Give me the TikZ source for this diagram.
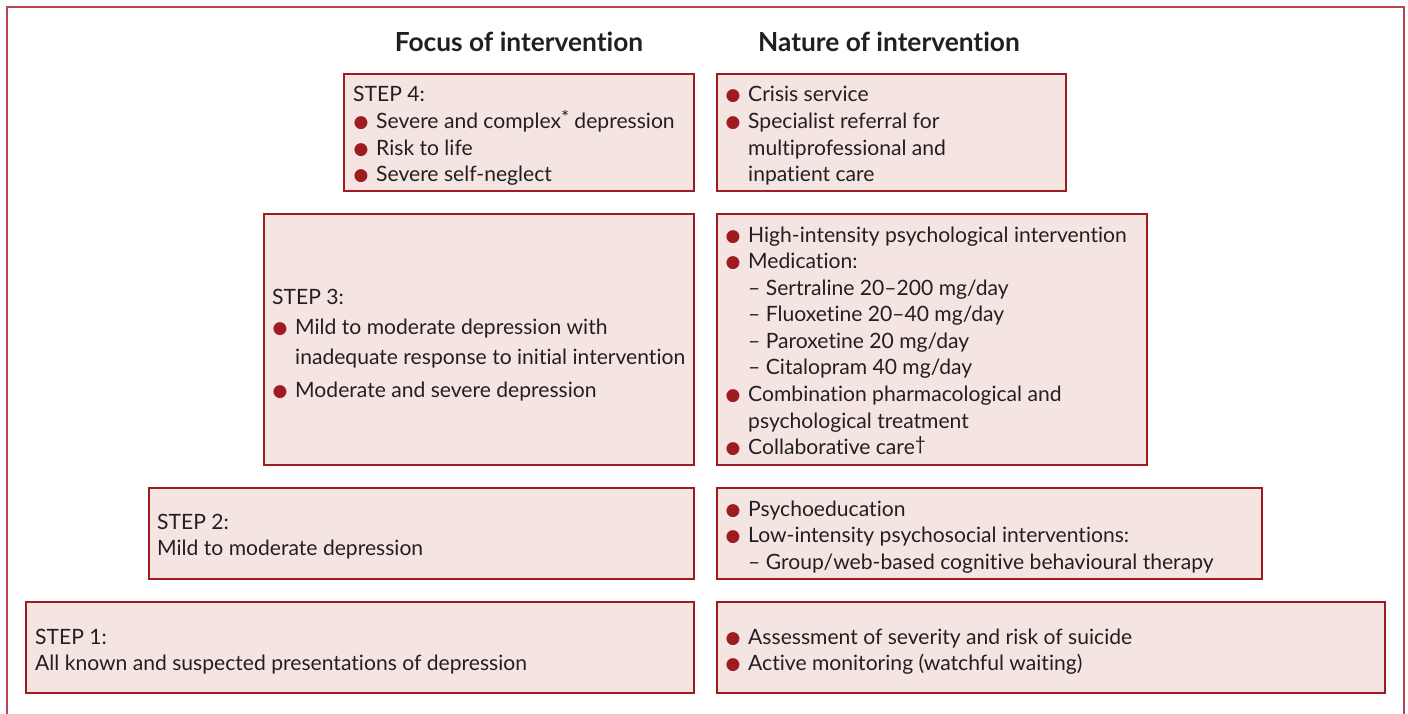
\documentclass[tikz,border=0pt]{standalone}
\usepackage{fontspec}
\setmainfont{Lato}[Ligatures=NoCommon]
\newfontfamily\symfont{DejaVu Sans}
\definecolor{boxred}{HTML}{9E1B20}
\definecolor{boxfill}{HTML}{F4E5E2}
\definecolor{framered}{HTML}{B7474F}
\definecolor{txt}{HTML}{231F20}
\newcommand{\bul}{\makebox[23pt][l]{\hspace{0.5pt}\raisebox{1pt}{\textcolor{boxred}{\symfont\fontsize{17}{17}\selectfont ●}}}}
\newcommand{\ind}{\hspace*{23pt}}
\newcommand{\supmark}[1]{\raisebox{4pt}{\fontsize{19}{19}\selectfont #1}}
\begin{document}
\begin{tikzpicture}[x=1pt,y=-1pt,
  stepbox/.style={draw=boxred, line width=2.2pt, fill=boxfill, inner sep=0pt, anchor=north west},
  txtnode/.style={anchor=base west, inner sep=0pt, text=txt, font=\fontsize{21.1}{26.6}\selectfont},
  headnode/.style={anchor=base, inner sep=0pt, text=txt, font=\fontsize{26.3}{30}\selectfont\bfseries}]
\useasboundingbox (0,0) rectangle (1408,714);
\draw[framered, line width=1.5pt] (7,7) rectangle (1404,740);
% headers
\node[headnode] (hf) at (519,52) {Focus of intervention};
\node[headnode] (hn) at (889,52) {Nature of intervention};
% boxes left
\node[stepbox, minimum width=350pt, minimum height=117pt] (l4) at (343,73) {};
\node[stepbox, minimum width=430pt, minimum height=251pt] (l3) at (263,213) {};
\node[stepbox, minimum width=545pt, minimum height=91pt] (l2) at (148,487) {};
\node[stepbox, minimum width=668pt, minimum height=91pt] (l1) at (25,601) {};
% boxes right
\node[stepbox, minimum width=349pt, minimum height=117pt] (r4) at (716,73) {};
\node[stepbox, minimum width=430pt, minimum height=251pt] (r3) at (716,213) {};
\node[stepbox, minimum width=545pt, minimum height=91pt] (r2) at (716,487) {};
\node[stepbox, minimum width=668pt, minimum height=91pt] (r1) at (716,601) {};
% texts
\node[txtnode] (t4) at (353,102) {\begin{tabular}[t]{@{}l@{}}STEP 4:\\
\bul Severe and complex\supmark{*} depression\\
\bul Risk to life\\
\bul Severe self-neglect\end{tabular}};
\node[txtnode] (n4) at (725,102) {\begin{tabular}[t]{@{}l@{}}\bul Crisis service\\
\bul Specialist referral for\\
\ind multiprofessional and\\
\ind inpatient care\end{tabular}};
\node[txtnode] (t3) at (272,304) {\begin{tabular}[t]{@{}l@{}}STEP 3:\\[3.4pt]
\bul Mild to moderate depression with\\[3.4pt]
\ind inadequate response to initial intervention\\[6.4pt]
\bul Moderate and severe depression\end{tabular}};
\node[txtnode] (n3) at (725,242) {\begin{tabular}[t]{@{}l@{}}\bul High-intensity psychological intervention\\
\bul Medication:\\
\ind – Sertraline 20–200 mg/day\\
\ind – Fluoxetine 20–40 mg/day\\
\ind – Paroxetine 20 mg/day\\
\ind – Citalopram 40 mg/day\\
\bul Combination pharmacological and\\
\ind psychological treatment\\
\bul Collaborative care\supmark{†}\end{tabular}};
\node[txtnode] (t2) at (157,529) {\begin{tabular}[t]{@{}l@{}}STEP 2:\\
Mild to moderate depression\end{tabular}};
\node[txtnode] (n2) at (725,516) {\begin{tabular}[t]{@{}l@{}}\bul Psychoeducation\\
\bul Low-intensity psychosocial interventions:\\
\ind – Group/web-based cognitive behavioural therapy\end{tabular}};
\node[txtnode] (t1) at (35,644) {\begin{tabular}[t]{@{}l@{}}STEP 1:\\
All known and suspected presentations of depression\end{tabular}};
\node[txtnode] (n1) at (725,644) {\begin{tabular}[t]{@{}l@{}}\bul Assessment of severity and risk of suicide\\
\bul Active monitoring (watchful waiting)\end{tabular}};
\end{tikzpicture}
\end{document}
